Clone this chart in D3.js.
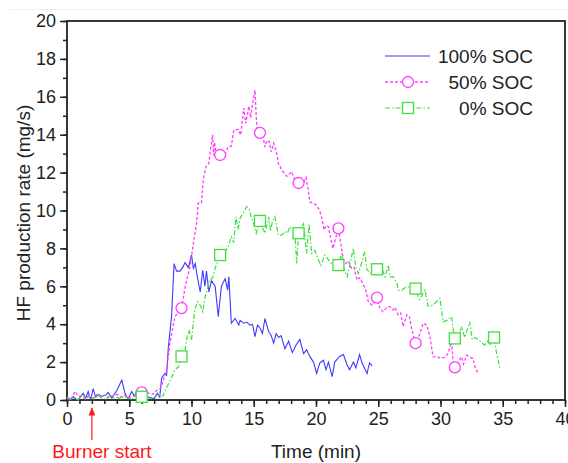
<!DOCTYPE html>
<html>
<head>
<meta charset="utf-8">
<script src="https://cdn.jsdelivr.net/npm/d3@7"></script>
<style>
  body { margin: 0; background: #fff; }
  svg { display: block; font-family: Arial, "Liberation Sans", sans-serif; }
</style>
</head>
<body>
<svg id="chart" width="568" height="463"></svg>
<script>
// Data: [time (min), HF rate (mg/s)]
var soc100 = [[0,0.05],[0.2,0.0],[0.5,0.17],[0.8,0.0],[1.0,0.1],[1.3,0.35],[1.5,0.1],[1.7,0.45],[1.9,0.0],[2.1,0.6],[2.3,0.15],[2.5,0.3],[2.8,0.2],[3.1,0.25],[3.3,0.4],[3.6,0.1],[4.0,0.5],[4.4,1.05],[4.66,0.35],[4.9,0.05],[5.2,0.45],[5.4,0.2],[5.65,0.5],[5.9,0.3],[6.2,0.25],[6.5,0.15],[6.8,0.1],[7.0,0.05],[7.25,0.35],[7.45,0.15],[7.6,1.15],[7.87,1.4],[8.0,1.3],[8.14,2.8],[8.4,4.4],[8.6,7.2],[8.8,6.8],[9.07,6.8],[9.3,7.0],[9.48,7.25],[9.75,7.0],[10.0,7.65],[10.15,6.95],[10.3,7.2],[10.47,6.5],[10.7,5.7],[10.9,6.85],[11.08,6.0],[11.2,6.8],[11.4,5.7],[11.6,6.3],[11.9,6.0],[12.15,4.4],[12.4,6.0],[12.7,6.4],[12.9,5.8],[13.0,6.5],[13.2,4.05],[13.5,4.3],[13.8,3.95],[13.9,4.2],[14.2,4.05],[14.45,4.1],[14.7,3.95],[14.9,4.0],[15.1,3.35],[15.3,3.95],[15.5,3.8],[15.7,3.5],[15.9,4.3],[16.2,3.6],[16.4,3.4],[16.6,3.0],[16.8,3.5],[17.0,3.3],[17.2,3.4],[17.5,2.7],[17.8,3.1],[18.1,2.5],[18.4,2.9],[18.7,3.2],[19.0,2.45],[19.25,2.65],[19.5,2.3],[19.8,2.0],[20.05,1.4],[20.3,1.95],[20.6,2.1],[20.8,1.6],[21.0,2.0],[21.3,1.23],[21.5,2.0],[21.9,2.3],[22.2,2.4],[22.5,1.85],[22.7,1.6],[23.0,2.0],[23.2,1.7],[23.5,2.4],[23.7,1.95],[24.1,1.4],[24.3,1.97],[24.5,1.8]];

var soc50 = [[0,0.1],[0.3,0.0],[0.65,0.45],[0.9,0.2],[1.2,0.2],[1.5,0.05],[1.8,0.25],[2.1,0.1],[2.4,0.3],[2.7,0.15],[3.0,0.25],[3.3,0.1],[3.6,0.2],[4.0,0.3],[4.3,0.15],[4.6,0.25],[5.0,0.1],[5.3,0.2],[5.6,0.3],[6.0,0.4],[6.3,0.45],[6.6,0.35],[6.9,0.3],[7.2,0.5],[7.5,0.6],[7.75,1.05],[8.0,1.6],[8.27,3.0],[8.67,4.4],[9.2,4.85],[9.5,6.0],[9.9,7.1],[10.15,8.27],[10.4,9.3],[10.55,10.4],[10.8,10.4],[10.95,11.6],[11.15,12.3],[11.4,12.5],[11.5,13.1],[11.7,14.0],[11.78,12.9],[11.85,13.6],[12.0,12.85],[12.3,12.93],[12.6,12.8],[12.95,13.37],[13.2,13.4],[13.4,14.25],[13.75,14.28],[13.95,13.98],[14.2,15.4],[14.35,14.6],[14.5,15.1],[14.6,15.5],[14.75,14.9],[14.9,15.6],[15.1,16.36],[15.24,14.42],[15.5,14.1],[15.77,13.8],[15.9,13.35],[16.05,13.7],[16.25,13.63],[16.4,13.1],[16.6,13.55],[16.85,13.0],[16.97,12.5],[17.25,12.14],[17.65,11.8],[18.05,12.05],[18.3,11.6],[18.6,11.45],[18.9,11.35],[19.2,11.75],[19.4,11.0],[19.5,10.45],[19.8,10.38],[20.0,10.3],[20.3,10.0],[20.5,9.5],[20.65,8.97],[20.8,9.2],[21.0,9.15],[21.1,8.8],[21.35,8.0],[21.8,9.06],[21.9,8.6],[22.05,8.0],[22.2,7.4],[22.4,7.2],[22.6,7.35],[22.85,6.95],[23.05,7.0],[23.3,6.33],[23.5,6.45],[23.75,6.16],[24.0,5.8],[24.2,5.19],[24.5,5.0],[24.9,5.4],[25.15,4.8],[25.4,4.66],[25.7,4.9],[25.95,4.92],[26.2,4.75],[26.35,4.89],[26.6,4.5],[26.8,4.6],[27.0,3.87],[27.3,4.5],[27.5,4.4],[27.7,3.7],[28.0,3.0],[28.35,3.5],[28.6,4.05],[28.9,3.96],[29.15,3.34],[29.4,2.28],[29.7,2.3],[30.0,2.2],[30.35,2.25],[30.6,2.46],[30.9,3.08],[31.0,2.1],[31.15,1.72],[31.4,2.0],[31.7,2.28],[31.85,1.9],[32.1,2.37],[32.35,2.25],[32.6,2.2],[32.8,1.67],[33.05,1.41]];

var soc0 = [[0,0.17],[0.3,0.05],[0.6,0.1],[0.9,0.0],[1.2,0.3],[1.5,0.1],[1.8,0.2],[2.1,0.05],[2.5,0.35],[2.8,0.1],[3.1,0.05],[3.4,0.2],[3.7,0.1],[4.0,0.15],[4.3,0.05],[4.6,0.2],[4.9,0.1],[5.2,0.05],[5.5,0.2],[5.8,0.1],[6.0,0.17],[6.3,0.2],[6.6,0.1],[6.9,0.05],[7.2,0.3],[7.5,0.2],[7.7,0.2],[7.95,0.6],[8.27,1.0],[8.67,1.6],[8.95,1.75],[9.2,2.3],[9.48,2.64],[9.6,3.17],[9.8,3.7],[10.0,3.17],[10.1,3.8],[10.27,4.75],[10.47,5.19],[10.7,5.0],[10.9,4.66],[11.1,5.45],[11.27,5.8],[11.43,6.33],[11.7,6.45],[11.9,6.95],[12.3,7.65],[12.7,7.83],[12.95,8.1],[13.2,8.62],[13.4,8.3],[13.5,9.15],[13.57,9.67],[13.75,9.0],[13.9,9.6],[14.15,9.85],[14.43,10.2],[14.6,10.1],[14.8,9.67],[15.0,9.3],[15.2,8.8],[15.5,9.45],[15.7,9.1],[15.9,8.8],[16.05,9.2],[16.2,9.67],[16.35,8.9],[16.5,9.4],[16.7,9.67],[16.97,8.7],[17.25,8.7],[17.5,8.9],[17.7,8.8],[17.9,9.15],[18.1,9.0],[18.3,8.88],[18.45,7.2],[18.6,8.8],[18.85,9.15],[19.0,9.3],[19.25,7.74],[19.45,9.3],[19.65,7.74],[19.9,7.9],[20.2,7.4],[20.4,7.1],[20.7,7.65],[20.9,7.5],[21.1,7.3],[21.45,7.03],[21.8,7.12],[22.05,7.74],[22.25,6.9],[22.5,6.5],[22.8,7.4],[23.0,8.0],[23.2,7.0],[23.4,6.68],[23.65,7.2],[23.9,7.83],[24.1,6.86],[24.4,6.7],[24.9,6.9],[25.3,6.95],[25.55,6.5],[25.8,7.12],[25.95,6.5],[26.2,6.5],[26.5,6.16],[26.6,5.8],[26.9,5.8],[27.2,5.95],[27.55,5.98],[27.75,5.8],[28.0,5.88],[28.3,5.3],[28.5,5.5],[28.75,5.8],[29.0,4.95],[29.4,5.0],[29.7,5.2],[29.95,5.36],[30.1,4.66],[30.2,4.13],[30.5,4.2],[30.75,4.3],[30.9,4.4],[31.0,3.8],[31.15,3.25],[31.4,3.3],[31.7,3.87],[31.95,3.3],[32.35,4.13],[32.55,3.2],[32.8,3.3],[33.2,3.08],[33.55,2.9],[33.8,3.1],[34.0,2.95],[34.3,3.3],[34.5,2.46],[34.8,1.6]];

// times where the symbols sit
var markTimes = [6.0, 9.2, 12.3, 15.5, 18.6, 21.8, 24.9, 28.0, 31.15, 34.3];

var legendLabels = ["100% SOC", "50% SOC", "0% SOC"];
var xTicks = [0, 5, 10, 15, 20, 25, 30, 35, 40];
var yTicks = [0, 2, 4, 6, 8, 10, 12, 14, 16, 18, 20];
var burnerTime = 2;

// Setup
var svg = d3.select("#chart");
const margin = { top: 21, left: 67, right: 3, bottom: 63 };
var width = 568 - margin.left - margin.right;
var height = 463 - margin.top - margin.bottom;

const blue = "#3b3bff", pink = "#ff3cff", green = "#3ee03e";

// faint line at the very top of the picture
svg.append("line")
  .attr("x1", 10).attr("x2", 568).attr("y1", 9.5).attr("y2", 9.5)
  .attr("stroke", "#eeeeee");

const plot = svg.append("g")
  .attr("transform", `translate(${margin.left},${margin.top})`);

const x = d3.scaleLinear().domain([0, 40]).range([0, width]);
const y = d3.scaleLinear().domain([0, 20]).range([height, 0]);

// minor ticks first, then major ticks with labels
plot.append("g")
  .attr("transform", `translate(0,${height})`)
  .call(d3.axisBottom(x).tickValues(d3.range(0, 41, 1)).tickSize(4).tickFormat(""))
  .call(g => g.select(".domain").remove());
plot.append("g")
  .call(d3.axisLeft(y).tickValues(d3.range(0, 21, 1)).tickSize(4).tickFormat(""))
  .call(g => g.select(".domain").remove());

const xAxis = plot.append("g")
  .attr("transform", `translate(0,${height})`)
  .call(d3.axisBottom(x).tickValues(xTicks).tickSize(7).tickPadding(5));
const yAxis = plot.append("g")
  .call(d3.axisLeft(y).tickValues(yTicks).tickSize(7).tickPadding(4));

[xAxis, yAxis].forEach(a => {
  a.selectAll("text").style("font-size", "18px").attr("fill", "#222");
  a.select(".domain").remove();
});
plot.selectAll(".tick line").attr("stroke", "#222").attr("stroke-width", 1.5);

// frame
plot.append("rect")
  .attr("width", width).attr("height", height)
  .attr("fill", "none").attr("stroke", "#222").attr("stroke-width", 1.8);

// lines
const line = d3.line().x(d => x(d[0])).y(d => y(d[1]));

const series = [
  { data: soc100, color: blue, dash: null, width: 1.1, mark: null },
  { data: soc50, color: pink, dash: "3,2", width: 1.3, mark: "circle" },
  { data: soc0, color: green, dash: "5,2,1.5,2", width: 1.2, mark: "square" }
];

series.forEach(s => {
  plot.append("path")
    .datum(s.data)
    .attr("fill", "none")
    .attr("stroke", s.color)
    .attr("stroke-width", s.width)
    .attr("stroke-dasharray", s.dash)
    .attr("d", line);
});

function drawMark(g, kind, cx, cy, color) {
  if (kind === "circle") {
    g.append("circle").attr("cx", cx).attr("cy", cy).attr("r", 5.5)
      .attr("fill", "white").attr("stroke", color).attr("stroke-width", 1.3);
  } else if (kind === "square") {
    g.append("rect").attr("x", cx - 5.5).attr("y", cy - 5.5)
      .attr("width", 11).attr("height", 11)
      .attr("fill", "white").attr("stroke", color).attr("stroke-width", 1.3);
  }
}

series.forEach(s => {
  if (!s.mark) return;
  s.data.filter(d => markTimes.indexOf(d[0]) >= 0).forEach(d => {
    drawMark(plot, s.mark, x(d[0]), y(d[1]), s.color);
  });
});

// legend
const legend = svg.append("g");
series.forEach((s, i) => {
  var ly = 56 + i * 26;
  legend.append("line")
    .attr("x1", 385).attr("x2", 430).attr("y1", ly).attr("y2", ly)
    .attr("stroke", s.color).attr("stroke-width", s.width)
    .attr("stroke-dasharray", s.dash);
  if (s.mark) drawMark(legend, s.mark, 408, ly, s.color);
  legend.append("text")
    .attr("x", 533).attr("y", ly + 7)
    .attr("text-anchor", "end")
    .style("font-size", "19px")
    .attr("fill", "#222")
    .text(legendLabels[i]);
});

// axis titles
svg.append("text")
  .attr("x", 316).attr("y", 458)
  .attr("text-anchor", "middle")
  .style("font-size", "19px")
  .attr("fill", "#222")
  .text("Time (min)");

svg.append("text")
  .attr("transform", "translate(30,213) rotate(-90)")
  .attr("text-anchor", "middle")
  .style("font-size", "19px")
  .attr("fill", "#222")
  .text("HF production rate (mg/s)");

// burner start arrow
svg.append("defs").append("marker")
  .attr("id", "arrow").attr("viewBox", "0 0 10 10")
  .attr("refX", 9).attr("refY", 5)
  .attr("markerWidth", 7).attr("markerHeight", 7)
  .attr("orient", "auto")
  .append("path").attr("d", "M0,1 L10,5 L0,9 Z").attr("fill", "#ff1a1a");

svg.append("line")
  .attr("x1", margin.left + x(burnerTime)).attr("x2", margin.left + x(burnerTime))
  .attr("y1", 440).attr("y2", 408)
  .attr("stroke", "#ff1a1a").attr("stroke-width", 1.2)
  .attr("marker-end", "url(#arrow)");

svg.append("text")
  .attr("x", 102).attr("y", 458)
  .attr("text-anchor", "middle")
  .style("font-size", "19px")
  .attr("fill", "#ff1a1a")
  .text("Burner start");
</script>
</body>
</html>
